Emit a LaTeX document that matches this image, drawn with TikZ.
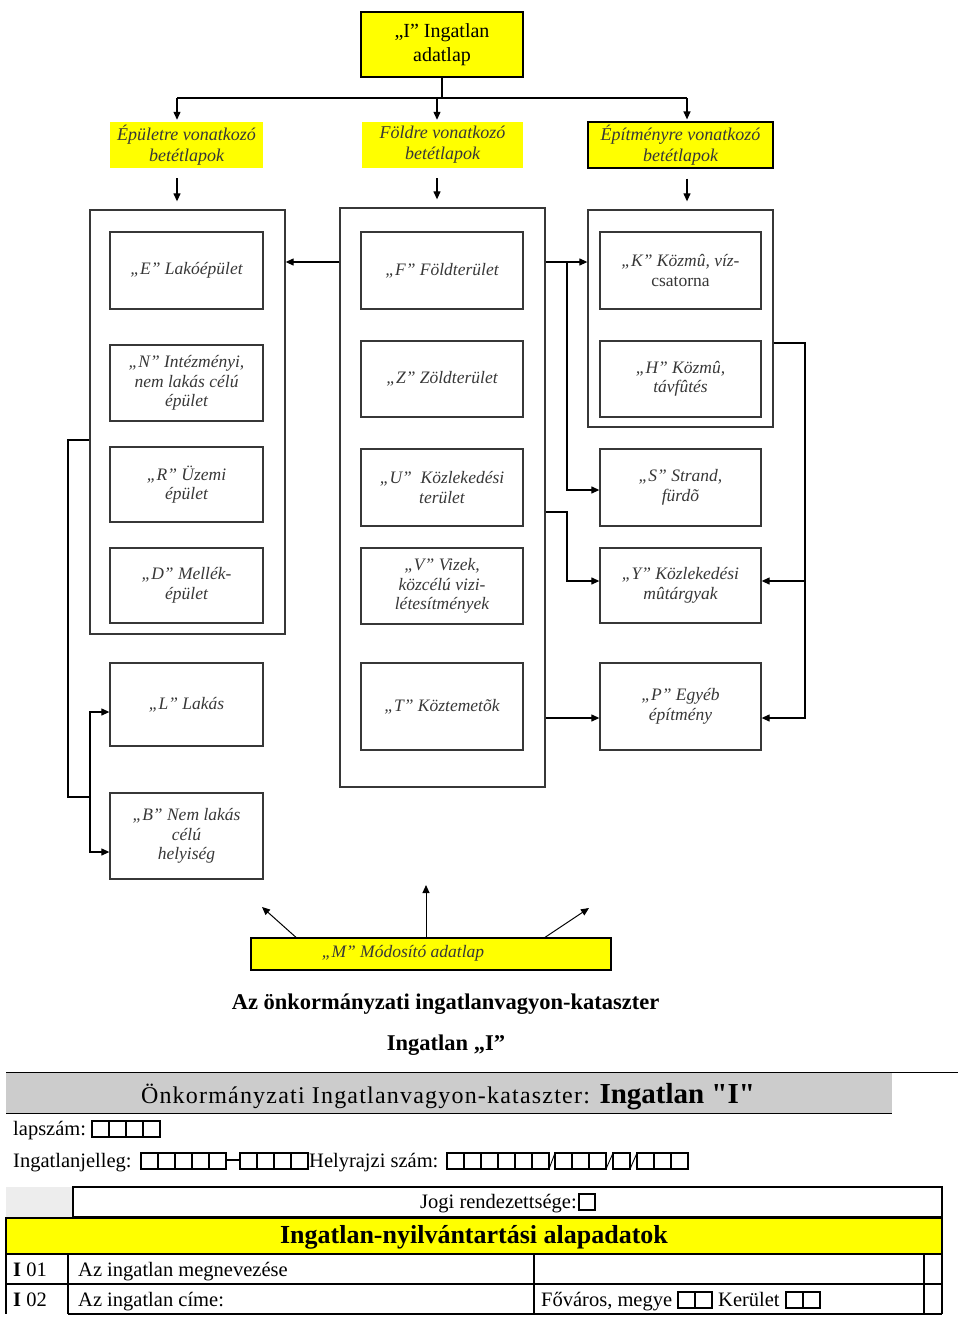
\documentclass[tikz,border=0pt]{standalone}
\usepackage{fontspec}
\setmainfont{Liberation Serif}
\newfontfamily\spacedfont[LetterSpace=5]{Liberation Serif}
\newfontfamily\plainbold[Ligatures=NoCommon]{Liberation Serif Bold}
\usetikzlibrary{arrows.meta}
\definecolor{yel}{RGB}{255,255,0}
\definecolor{ink}{RGB}{55,55,55}
\begin{document}
\begin{tikzpicture}[x=1pt,y=-1pt,
  box/.style={draw=ink, line width=1.3pt, inner sep=2pt, align=center, text=ink,
    font=\fontsize{17.5}{19.5}\selectfont\itshape},
  lbox/.style={box, minimum width=153pt},
  mbox/.style={box, minimum width=162pt},
  rbox/.style={box, minimum width=161pt},
  cont/.style={draw=ink, line width=1.3pt, inner sep=0pt},
  lab/.style={fill=yel, align=center, text=ink, inner sep=0pt, minimum height=46pt,
    font=\fontsize{18}{21}\selectfont\itshape},
  ln/.style={line width=1.2pt},
  arr/.style={line width=1.2pt, -{Triangle[length=8pt,width=7pt]}},
  thinarr/.style={line width=1pt, -{Triangle[length=8pt,width=7pt]}},
  txt/.style={inner sep=0pt, anchor=base west, font=\fontsize{20.5}{24}\selectfont},
  cb/.style={line width=1.3pt}]
\useasboundingbox (0,0) rectangle (960,1317);

% ---------- top ----------
\node[draw=black, fill=yel, line width=1.3pt, minimum width=162pt, minimum height=65pt,
  align=center, font=\fontsize{20}{24}\selectfont] (I) at (442,44.5) {„I” Ingatlan\\adatlap};

\node[lab, minimum width=153pt] (labE) at (186.5,145) {Épületre vonatkozó\\betétlapok};
\node[lab, minimum width=161pt] (labF) at (442.5,145) {Földre vonatkozó\\betétlapok};
\node[lab, minimum width=185pt, draw=black, line width=1.2pt] (labK) at (680.5,145) {Építményre vonatkozó\\betétlapok};

% ---------- containers ----------
\node[cont, minimum width=195pt, minimum height=424pt] (contE) at (187.5,422) {};
\node[cont, minimum width=205pt, minimum height=579pt] (contF) at (442.5,497.5) {};
\node[cont, minimum width=185pt, minimum height=217pt] (contK) at (680.5,318.5) {};

% ---------- left column ----------
\node[lbox, minimum height=77pt] (E) at (186.5,270.5) {„E” Lakóépület};
\node[lbox, minimum height=76pt] (N) at (186.5,383) {„N” Intézményi,\\nem lakás célú\\épület};
\node[lbox, minimum height=75pt] (R) at (186.5,484.5) {„R” Üzemi\\épület};
\node[lbox, minimum height=75pt] (D) at (186.5,585.5) {„D” Mellék-\\épület};
\node[lbox, minimum height=83pt] (L) at (186.5,704.5) {„L” Lakás};
\node[lbox, minimum height=86pt] (B) at (186.5,836) {„B” Nem lakás\\célú\\helyiség};

% ---------- middle column ----------
\node[mbox, minimum height=77pt] (F) at (442,270.5) {„F” Földterület};
\node[mbox, minimum height=76pt] (Z) at (442,379) {„Z” Zöldterület};
\node[mbox, minimum height=77pt] (U) at (442,487.5) {„U”\ \ Közlekedési\\terület};
\node[mbox, minimum height=76pt] (V) at (442,586) {„V” Vizek,\\közcélú vizi-\\létesítmények};
\node[mbox, minimum height=87pt] (T) at (442,706.5) {„T” Köztemetõk};

% ---------- right column ----------
\node[rbox, minimum height=77pt] (K) at (680.5,270.5) {„K” Közmû, víz-\\{\upshape csatorna}};
\node[rbox, minimum height=76pt] (H) at (680.5,379) {„H” Közmû,\\távfûtés};
\node[rbox, minimum height=77pt] (S) at (680.5,487.5) {„S” Strand,\\fürdõ};
\node[rbox, minimum height=75pt] (Y) at (680.5,585.5) {„Y” Közlekedési\\mûtárgyak};
\node[rbox, minimum height=87pt] (P) at (680.5,706.5) {„P” Egyéb\\építmény};

% ---------- top connectors ----------
\coordinate (bus) at (440,98);
\coordinate (xE) at (177,0);
\coordinate (xF) at (437,0);
\coordinate (xK) at (687,0);
\draw[ln] (I.south) -- (I.south |- bus);
\draw[ln] (xE |- bus) -- (xK |- bus);
\draw[arr] (xE |- bus) -- ([yshift=2pt]xE |- labE.north);
\draw[arr] (xF |- bus) -- ([yshift=2pt]xF |- labF.north);
\draw[arr] (xK |- bus) -- ([yshift=2pt]xK |- labK.north);
\draw[arr] ([yshift=-10pt]xE |- labE.south) -- ([yshift=8pt]xE |- contE.north);
\draw[arr] ([yshift=-10pt]xF |- labF.south) -- ([yshift=8pt]xF |- contF.north);
\draw[arr] ([yshift=-10pt]xK |- labK.south) -- ([yshift=8pt]xK |- contK.north);

% ---------- container connectors ----------
\coordinate (yA) at (0,262);
\coordinate (yB) at (0,512);
\coordinate (yS) at (0,490);
\coordinate (yY) at (0,581);
\coordinate (yP) at (0,718);
\coordinate (yR) at (0,343);
\coordinate (xA) at (567,0);
\coordinate (xR) at (805,0);
\draw[arr] (contF.west |- yA) -- (contE.east |- yA);
\draw[arr] (contF.east |- yA) -- (contK.west |- yA);
\draw[arr] (xA |- yA) -- (xA |- yS) -- (S.west |- yS);
\draw[arr] (contF.east |- yB) -- (xA |- yB) -- (xA |- yY) -- (Y.west |- yY);
\draw[arr] (contF.east |- yP) -- (P.west |- yP);
\draw[arr] (contK.east |- yR) -- (xR |- yR) -- (xR |- yP) -- (P.east |- yP);
\draw[arr] (xR |- yY) -- (Y.east |- yY);

% left feed to L and B
\coordinate (yL) at (0,440);
\coordinate (yL2) at (0,797);
\coordinate (yLa) at (0,712);
\coordinate (yLb) at (0,852);
\coordinate (xL) at (68,0);
\coordinate (xL2) at (90,0);
\draw[ln] (contE.west |- yL) -- (xL |- yL) -- (xL |- yL2) -- (xL2 |- yL2);
\draw[arr] (xL2 |- yL2) -- (xL2 |- yLa) -- (L.west |- yLa);
\draw[arr] (xL2 |- yL2) -- (xL2 |- yLb) -- (B.west |- yLb);

% ---------- M bar ----------
\node[draw=black, fill=yel, line width=1.3pt, minimum width=360pt, minimum height=32pt] (M) at (431,954) {};
\node[text=ink, inner sep=0pt, font=\fontsize{17.5}{20}\selectfont\itshape] (Mt) at (403,953) {„M” Módosító adatlap};
\coordinate (ma) at (262,907);
\coordinate (mb) at (426,885);
\coordinate (mc) at (589,908);
\draw[thinarr] ([xshift=-135pt]M.north) -- (ma);
\draw[thinarr] (M.north -| mb) -- (mb);
\draw[thinarr] ([xshift=114pt]M.north) -- (mc);

% ---------- titles ----------
\node[inner sep=0pt, font=\bfseries\fontsize{22.5}{26}\selectfont] (t1) at (445.5,1004) {Az önkormányzati ingatlanvagyon-kataszter};
\node[inner sep=0pt, font=\bfseries\fontsize{22.5}{26}\selectfont] (t2) at (446,1045) {Ingatlan „I”};

% ---------- form ----------
\draw[line width=0.8pt] (6,1072) -- (958,1072);
\fill[black!20] (6,1073) rectangle (892,1113);
\draw[line width=1pt] (6,1113) -- (892,1113);
\node[inner sep=0pt, anchor=base] (band) at (448,1103)
  {\fontsize{24}{26}\spacedfont Önkormányzati Ingatlanvagyon-kataszter: \fontsize{29}{30}\plainbold Ingatlan \char34 I\char34};

\node[txt] (lap) at (13,1135) {lapszám:};
\foreach \i in {0,...,3} \draw[cb] (92+17*\i,1121) rectangle ++(17,16);

\node[txt] (ijl) at (13,1167) {Ingatlanjelleg:};
\foreach \i in {0,...,4} \draw[cb] (141+17*\i,1153) rectangle ++(17,16);
\draw[cb] (226,1160) -- (240,1160);
\foreach \i in {0,...,3} \draw[cb] (240+17*\i,1153) rectangle ++(17,16);
\node[txt] (hrsz) at (309,1167) {Helyrajzi szám:};
\foreach \i in {0,...,5} \draw[cb] (447+17*\i,1153) rectangle ++(17,16);
\draw[line width=0.9pt] (549,1169) -- (555,1153);
\foreach \i in {0,...,2} \draw[cb] (555+17*\i,1153) rectangle ++(17,16);
\draw[line width=0.9pt] (606,1169) -- (613,1153);
\draw[cb] (613,1153) rectangle ++(17,16);
\draw[line width=0.9pt] (630,1169) -- (637,1153);
\foreach \i in {0,...,2} \draw[cb] (637+17*\i,1153) rectangle ++(17,16);

% Jogi row
\fill[black!7] (6,1187) rectangle (73,1217);
\draw[line width=1.2pt] (73,1187) rectangle (942,1217);
\node[txt] (jogi) at (420,1208) {Jogi rendezettsége:};
\draw[cb] (579,1194) rectangle ++(16,16);

% yellow heading
\draw[line width=1.3pt, fill=yel] (6,1218) rectangle (942,1254);
\node[inner sep=0pt, font=\bfseries\fontsize{26}{28}\selectfont] (head) at (474,1237) {Ingatlan-nyilvántartási alapadatok};

% rows
\draw[line width=1.2pt] (6,1284) -- (942,1284);
\draw[line width=1.2pt] (68,1314) -- (942,1314);
\draw[line width=1.2pt] (6,1254) -- (6,1314);
\draw[line width=1.2pt] (68,1254) -- (68,1314);
\draw[line width=1.2pt] (534,1254) -- (534,1314);
\draw[line width=1.2pt] (924,1254) -- (924,1314);
\draw[line width=1.2pt] (942,1254) -- (942,1314);
\node[txt] (r1a) at (13,1276) {\textbf{I} 01};
\node[txt] (r1b) at (78,1276) {Az ingatlan megnevezése};
\node[txt] (r2a) at (13,1306) {\textbf{I} 02};
\node[txt] (r2b) at (78,1306) {Az ingatlan címe:};
\node[txt] (r2c) at (541,1306) {Főváros, megye};
\foreach \i in {0,1} \draw[cb] (678+17*\i,1292) rectangle ++(17,16);
\node[txt] (r2d) at (718,1306) {Kerület};
\foreach \i in {0,1} \draw[cb] (786+17*\i,1292) rectangle ++(17,16);
\end{tikzpicture}
\end{document}
